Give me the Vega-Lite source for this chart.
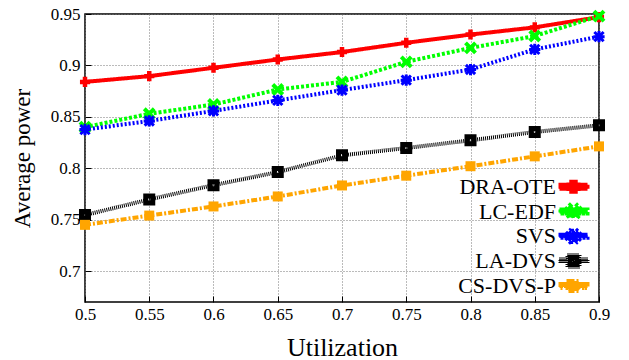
{
  "$schema": "https://vega.github.io/schema/vega-lite/v6.json",
  "width": 514,
  "height": 288,
  "autosize": "none",
  "padding": {"left": 85, "top": 14, "right": 30, "bottom": 58},
  "background": "white",
  "config": {
    "view": {"stroke": "black", "strokeWidth": 1.5},
    "font": "Liberation Serif",
    "axis": {
      "labelFont": "Liberation Serif",
      "titleFont": "Liberation Serif",
      "labelColor": "black",
      "titleColor": "black",
      "titleFontWeight": "normal",
      "domain": false,
      "grid": true,
      "gridColor": "#777777",
      "gridDash": [1, 2],
      "gridWidth": 1,
      "tickColor": "black",
      "tickSize": -6,
      "tickWidth": 1,
      "labelFlush": false,
      "labelOverlap": false
    },
    "legend": {"labelFont": "Liberation Serif"}
  },
  "data": {
    "values": [
      {"u": 0.5, "s": "DRA-OTE", "v": 0.884},
      {"u": 0.55, "s": "DRA-OTE", "v": 0.8896},
      {"u": 0.6, "s": "DRA-OTE", "v": 0.8977},
      {"u": 0.65, "s": "DRA-OTE", "v": 0.9058},
      {"u": 0.7, "s": "DRA-OTE", "v": 0.913},
      {"u": 0.75, "s": "DRA-OTE", "v": 0.922},
      {"u": 0.8, "s": "DRA-OTE", "v": 0.930},
      {"u": 0.85, "s": "DRA-OTE", "v": 0.937},
      {"u": 0.9, "s": "DRA-OTE", "v": 0.947},
      {"u": 0.5, "s": "LC-EDF", "v": 0.840},
      {"u": 0.55, "s": "LC-EDF", "v": 0.853},
      {"u": 0.6, "s": "LC-EDF", "v": 0.862},
      {"u": 0.65, "s": "LC-EDF", "v": 0.8766},
      {"u": 0.7, "s": "LC-EDF", "v": 0.884},
      {"u": 0.75, "s": "LC-EDF", "v": 0.9035},
      {"u": 0.8, "s": "LC-EDF", "v": 0.917},
      {"u": 0.85, "s": "LC-EDF", "v": 0.9286},
      {"u": 0.9, "s": "LC-EDF", "v": 0.948},
      {"u": 0.5, "s": "SVS", "v": 0.8376},
      {"u": 0.55, "s": "SVS", "v": 0.846},
      {"u": 0.6, "s": "SVS", "v": 0.8558},
      {"u": 0.65, "s": "SVS", "v": 0.866},
      {"u": 0.7, "s": "SVS", "v": 0.876},
      {"u": 0.75, "s": "SVS", "v": 0.8857},
      {"u": 0.8, "s": "SVS", "v": 0.896},
      {"u": 0.85, "s": "SVS", "v": 0.9156},
      {"u": 0.9, "s": "SVS", "v": 0.928},
      {"u": 0.5, "s": "LA-DVS", "v": 0.7545},
      {"u": 0.55, "s": "LA-DVS", "v": 0.7697},
      {"u": 0.6, "s": "LA-DVS", "v": 0.7836},
      {"u": 0.65, "s": "LA-DVS", "v": 0.7963},
      {"u": 0.7, "s": "LA-DVS", "v": 0.8126},
      {"u": 0.75, "s": "LA-DVS", "v": 0.8197},
      {"u": 0.8, "s": "LA-DVS", "v": 0.8272},
      {"u": 0.85, "s": "LA-DVS", "v": 0.8353},
      {"u": 0.9, "s": "LA-DVS", "v": 0.8418},
      {"u": 0.5, "s": "CS-DVS-P", "v": 0.745},
      {"u": 0.55, "s": "CS-DVS-P", "v": 0.754},
      {"u": 0.6, "s": "CS-DVS-P", "v": 0.7629},
      {"u": 0.65, "s": "CS-DVS-P", "v": 0.7726},
      {"u": 0.7, "s": "CS-DVS-P", "v": 0.7833},
      {"u": 0.75, "s": "CS-DVS-P", "v": 0.7928},
      {"u": 0.8, "s": "CS-DVS-P", "v": 0.802},
      {"u": 0.85, "s": "CS-DVS-P", "v": 0.8116},
      {"u": 0.9, "s": "CS-DVS-P", "v": 0.8213}
    ]
  },
  "encoding": {
    "x": {
      "field": "u",
      "type": "quantitative",
      "scale": {"domain": [0.5, 0.9], "nice": false, "zero": false},
      "axis": {
        "values": [0.5, 0.55, 0.6, 0.65, 0.7, 0.75, 0.8, 0.85, 0.9],
        "format": "~g",
        "labelFontSize": 17,
        "labelPadding": 10,
        "title": "Utilization",
        "titleFontSize": 26,
        "titlePadding": 12
      }
    },
    "y": {
      "field": "v",
      "type": "quantitative",
      "scale": {"domain": [0.67, 0.95], "nice": false, "zero": false},
      "axis": {
        "values": [0.7, 0.75, 0.8, 0.85, 0.9, 0.95],
        "format": "~g",
        "labelFontSize": 17,
        "labelPadding": 11,
        "title": "Average power",
        "titleFontSize": 23,
        "titlePadding": 16
      }
    }
  },
  "layer": [
    {
      "mark": {"type": "line"},
      "encoding": {
        "color": {
          "field": "s",
          "type": "nominal",
          "scale": {
            "domain": ["DRA-OTE", "LC-EDF", "SVS", "LA-DVS", "CS-DVS-P"],
            "range": ["#ff0000", "#00ff00", "#0000ff", "#000000", "#ffa500"]
          },
          "legend": {
            "title": null,
            "orient": "none",
            "legendX": 473.5,
            "legendY": 161.7,
            "padding": 0,
            "labelFontSize": 22,
            "labelColor": "black",
            "labelAlign": "right",
            "labelOffset": -29.5,
            "labelLimit": 300,
            "rowPadding": 2.8,
            "clipHeight": 22,
            "symbolOffset": 3,
            "symbolSize": 400,
            "symbolStrokeWidth": 0,
            "encode": {
              "entries": {
                "update": {
                  "width": {"value": 40}
                }
              },
              "symbols": {
                "update": {
                  "shape": {"signal": "datum.value === 'DRA-OTE' ? 'M-1.4,-0.2H1.4V0.2H-1.4Z M-0.224,-0.504H0.224V0.504H-0.224Z M-0.504,-0.224H0.504V0.224H-0.504Z' : datum.value === 'LC-EDF' ? 'M-1.4,-0.2H-1.149V0.2H-1.4Z M-1,-0.2H-0.75V0.2H-1Z M-0.6,-0.2H-0.35V0.2H-0.6Z M-0.2,-0.2H0.2V0.2H-0.2Z M0.35,-0.2H0.6V0.2H0.35Z M0.75,-0.2H1V0.2H0.75Z M1.149,-0.2H1.4V0.2H1.149Z M-0.358,-0.641L0.641,0.358L0.358,0.641L-0.641,-0.358Z M0.641,-0.358L-0.358,0.641L-0.641,0.358L0.358,-0.641Z' : datum.value === 'SVS' ? 'M-1.4,-0.15H-1.2V0.15H-1.4Z M-1,-0.15H-0.8V0.15H-1Z M-0.6,-0.15H-0.4V0.15H-0.6Z M0.4,-0.15H0.6V0.15H0.4Z M0.8,-0.15H1V0.15H0.8Z M1.2,-0.15H1.4V0.15H1.2Z M-0.15,-0.56H0.15V0.56H-0.15Z M-0.56,-0.15H0.56V0.15H-0.56Z M-0.356,-0.568L0.568,0.356L0.356,0.568L-0.568,-0.356Z M0.568,-0.356L-0.356,0.568L-0.568,0.356L0.356,-0.568Z' : datum.value === 'LA-DVS' ? 'M-1.4,-0.2H-1.3V0.2H-1.4Z M-1.2,-0.2H-1.1V0.2H-1.2Z M-1,-0.2H-0.9V0.2H-1Z M-0.8,-0.2H-0.7V0.2H-0.8Z M0.7,-0.2H0.8V0.2H0.7Z M0.9,-0.2H1V0.2H0.9Z M1.1,-0.2H1.2V0.2H1.1Z M1.3,-0.2H1.4V0.2H1.3Z M-0.6,-0.6H0.6V0.6H-0.6Z M-0.1,-0.1V0.1H0.1V-0.1Z' : 'M-1.4,-0.2H-1.05V0.2H-1.4Z M-0.9,-0.2H-0.75V0.2H-0.9Z M-0.6,-0.2H-0.2V0.2H-0.6Z M0.2,-0.2H0.6V0.2H0.2Z M0.75,-0.2H0.9V0.2H0.75Z M1.05,-0.2H1.4V0.2H1.05Z M-0.5,-0.5H0.5V0.5H-0.5Z'"},
                  "fill": {"scale": "color", "field": "value"},
                  "strokeWidth": {"value": 0},
                  "size": {"value": 400},
                  "opacity": {"value": 1}
                }
              }
            }
          }
        },
        "strokeDash": {
          "field": "s",
          "type": "nominal",
          "scale": {
            "domain": ["DRA-OTE", "LC-EDF", "SVS", "LA-DVS", "CS-DVS-P"],
            "range": [[1, 0], [3, 2], [2, 2], [1, 1], [6, 2, 2, 2]]
          },
          "legend": null
        },
        "strokeWidth": {
          "field": "s",
          "type": "ordinal",
          "scale": {
            "domain": ["DRA-OTE", "LC-EDF", "SVS", "LA-DVS", "CS-DVS-P"],
            "range": [4, 4, 3, 4, 4]
          },
          "legend": null
        }
      }
    },
    {
      "transform": [{"filter": "datum.s === 'DRA-OTE'"}],
      "mark": {"type": "point", "filled": true, "size": 784, "opacity": 1, "color": "#ff0000",
        "shape": "M-0.16,-0.36H0.16V0.36H-0.16Z M-0.36,-0.16H0.36V0.16H-0.36Z"}
    },
    {
      "transform": [{"filter": "datum.s === 'LC-EDF'"}],
      "mark": {"type": "point", "filled": true, "size": 784, "opacity": 1, "color": "#00ff00",
        "shape": "M-0.256,-0.458L0.458,0.256L0.256,0.458L-0.458,-0.256Z M0.458,-0.256L-0.256,0.458L-0.458,0.256L0.256,-0.458Z"}
    },
    {
      "transform": [{"filter": "datum.s === 'SVS'"}],
      "mark": {"type": "point", "filled": true, "size": 784, "opacity": 1, "color": "#0000ff",
        "shape": "M-0.107,-0.4H0.107V0.4H-0.107Z M-0.4,-0.107H0.4V0.107H-0.4Z M-0.254,-0.406L0.406,0.254L0.254,0.406L-0.406,-0.254Z M0.406,-0.254L-0.254,0.406L-0.406,0.254L0.254,-0.406Z"}
    },
    {
      "transform": [{"filter": "datum.s === 'LA-DVS'"}],
      "mark": {"type": "point", "filled": true, "size": 784, "opacity": 1, "color": "#000000",
        "shape": "M-0.429,-0.429H0.429V0.429H-0.429Z M-0.071,-0.071V0.071H0.071V-0.071Z"}
    },
    {
      "transform": [{"filter": "datum.s === 'CS-DVS-P'"}],
      "mark": {"type": "point", "filled": true, "size": 784, "opacity": 1, "color": "#ffa500",
        "shape": "M-0.357,-0.357H0.357V0.357H-0.357Z"}
    }
  ]
}
